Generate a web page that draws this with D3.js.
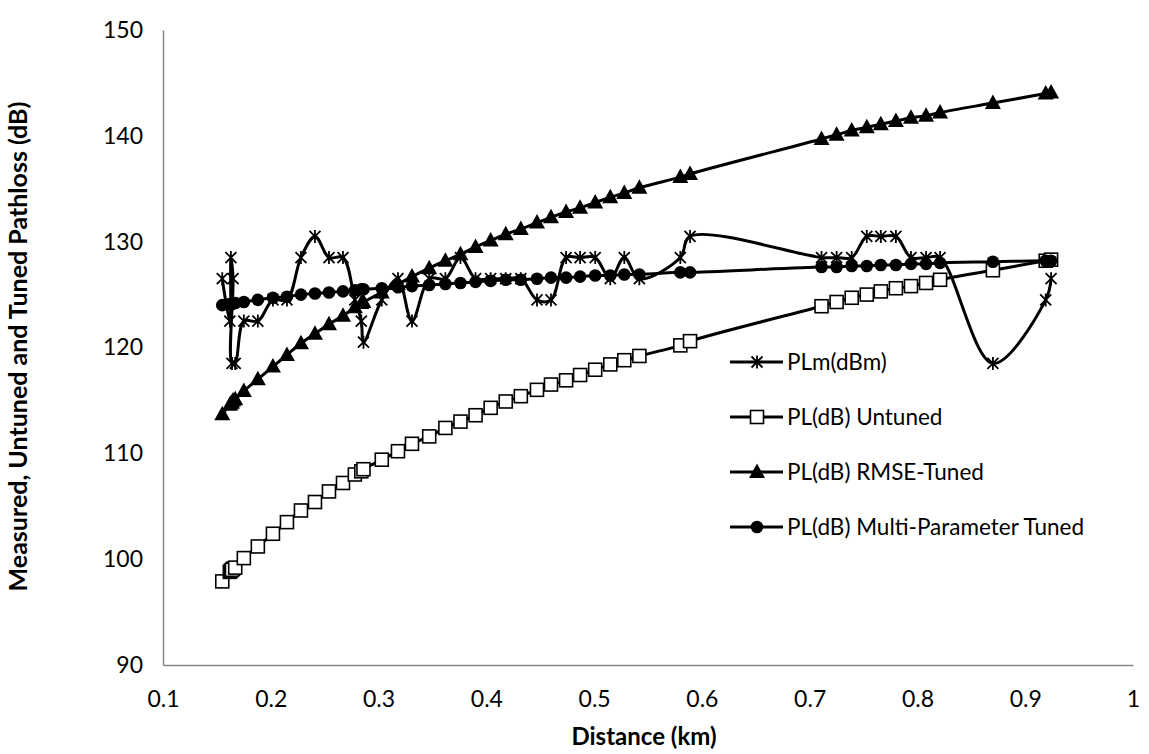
<!DOCTYPE html>
<html>
<head>
  <meta charset="utf-8">
  <title>Measured, Untuned and Tuned Pathloss</title>
  <script src="https://d3js.org/d3.v7.min.js"></script>
  <style>
    body { margin: 0; background: #fff; }
    text { font-family: Lato, "Open Sans", sans-serif; fill: #000; }
    .axis path { stroke: #868686; stroke-width: 1.5; }
    .axis text { font-size: 23px; }
    .title { font-weight: bold; }
    .legend text { font-size: 22.5px; }
  </style>
</head>
<body>
<svg class="chart" width="1149" height="754"></svg>
<script>

// distance (km), in the order the points are plotted
var distance = [0.155, 0.162, 0.163, 0.165, 0.164, 0.167, 0.175, 0.188, 0.202, 0.215,
  0.228, 0.241, 0.254, 0.267, 0.278, 0.284, 0.286, 0.303, 0.318, 0.331,
  0.347, 0.362, 0.376, 0.390, 0.404, 0.418, 0.432, 0.447, 0.460, 0.474,
  0.487, 0.501, 0.515, 0.528, 0.542, 0.580, 0.589, 0.711, 0.725, 0.739,
  0.753, 0.766, 0.780, 0.794, 0.808, 0.821, 0.870, 0.919, 0.924];

var plMeasured = [126.5, 122.5, 128.5, 126.5, 118.5, 118.5, 122.5, 122.5, 124.5, 124.5,
  128.5, 130.5, 128.5, 128.5, 124.5, 122.5, 120.5, 124.5, 126.5, 122.5,
  126.5, 126.5, 128.5, 126.5, 126.5, 126.5, 126.5, 124.5, 124.5, 128.5,
  128.5, 128.5, 126.5, 128.5, 126.5, 128.5, 130.5, 128.5, 128.5, 128.5,
  130.5, 130.5, 130.5, 128.5, 128.5, 128.5, 118.5, 124.5, 126.5];

var plUntuned = [97.9, 98.8, 98.9, 99.1, 99.0, 99.2, 100.1, 101.2, 102.4, 103.5,
  104.6, 105.4, 106.4, 107.2, 108.0, 108.3, 108.5, 109.4, 110.2, 110.9,
  111.6, 112.4, 113.0, 113.6, 114.3, 114.9, 115.4, 116.0, 116.5, 116.9,
  117.4, 117.9, 118.4, 118.8, 119.2, 120.2, 120.6, 123.9, 124.3, 124.7,
  125.0, 125.3, 125.6, 125.8, 126.1, 126.4, 127.3, 128.2, 128.3];

var plRmse = [113.7, 114.6, 114.7, 115.0, 114.8, 115.1, 115.9, 117.0, 118.2, 119.3,
  120.4, 121.3, 122.2, 123.0, 123.8, 124.2, 124.3, 125.2, 126.0, 126.7,
  127.5, 128.2, 128.8, 129.5, 130.1, 130.7, 131.2, 131.8, 132.3, 132.8,
  133.2, 133.7, 134.2, 134.6, 135.1, 136.1, 136.4, 139.7, 140.1, 140.5,
  140.8, 141.1, 141.4, 141.7, 141.9, 142.2, 143.1, 144.0, 144.1];

var plMulti = [124.0, 124.1, 124.1, 124.2, 124.1, 124.2, 124.3, 124.5, 124.7, 124.8,
  125.0, 125.1, 125.2, 125.3, 125.4, 125.5, 125.5, 125.6, 125.7, 125.8,
  125.9, 126.0, 126.1, 126.2, 126.3, 126.4, 126.4, 126.5, 126.6, 126.6,
  126.7, 126.8, 126.8, 126.9, 126.9, 127.1, 127.1, 127.6, 127.6, 127.7,
  127.7, 127.8, 127.8, 127.9, 127.9, 128.0, 128.1, 128.2, 128.2];

var seriesNames = ["PLm(dBm)", "PL(dB) Untuned", "PL(dB) RMSE-Tuned", "PL(dB) Multi-Parameter Tuned"];
var xTicks = [0.1, 0.2, 0.3, 0.4, 0.5, 0.6, 0.7, 0.8, 0.9, 1];
var yTicks = [90, 100, 110, 120, 130, 140, 150];

var margin = {top: 30, right: 16, bottom: 89, left: 163},
    width = 1149 - margin.left - margin.right,
    height = 754 - margin.top - margin.bottom;

var svg = d3.select(".chart");
var chart = svg.append("g")
    .attr("transform", "translate(" + margin.left + "," + margin.top + ")");

var x = d3.scaleLinear().domain([0.1, 1]).range([0, width]);
var y = d3.scaleLinear().domain([90, 150]).range([height, 0]);

chart.append("g")
    .attr("class", "x axis")
    .attr("transform", "translate(0," + height + ")")
    .call(d3.axisBottom(x).tickValues(xTicks).tickSize(0).tickPadding(26).tickFormat(d3.format("")));

chart.append("g")
    .attr("class", "y axis")
    .call(d3.axisLeft(y).tickValues(yTicks).tickSize(0).tickPadding(20));

chart.selectAll(".axis text").attr("font-family", null).attr("font-size", null);

// marker shapes
var star = "M-5.5,-5.5L5.5,5.5M-5.5,5.5L5.5,-5.5M0,-6.5L0,6.5";
var marks = [
  function(g) { g.append("path").attr("d", star).attr("fill", "none").attr("stroke", "#000").attr("stroke-width", 1.8); },
  function(g) { g.append("rect").attr("x", -6.5).attr("y", -6.5).attr("width", 13).attr("height", 13)
                 .attr("fill", "#fff").attr("stroke", "#000").attr("stroke-width", 1.6); },
  function(g) { g.append("path").attr("d", "M0,-8.5L8,6L-8,6Z").attr("fill", "#000"); },
  function(g) { g.append("circle").attr("r", 6.3).attr("fill", "#000"); }
];

var allSeries = [plMeasured, plUntuned, plRmse, plMulti];

var line = d3.line()
    .x(function(d) { return x(d[0]); })
    .y(function(d) { return y(d[1]); })
    .curve(d3.curveCatmullRom.alpha(0.5));

allSeries.forEach(function(vals, i) {
  var pts = distance.map(function(d, j) { return [d, vals[j]]; });
  var g = chart.append("g").attr("class", "series");
  g.append("path")
      .datum(pts)
      .attr("d", line)
      .attr("fill", "none")
      .attr("stroke", "#000")
      .attr("stroke-width", 3);
  g.selectAll(".mk")
      .data(pts)
    .enter().append("g")
      .attr("class", "mk")
      .attr("transform", function(d) { return "translate(" + x(d[0]) + "," + y(d[1]) + ")"; })
      .each(function() { marks[i](d3.select(this)); });
});

// legend
var legend = svg.append("g").attr("class", "legend");
seriesNames.forEach(function(name, i) {
  var ly = 362 + i * 55;
  var lg = legend.append("g").attr("transform", "translate(0," + ly + ")");
  lg.append("line").attr("x1", 730).attr("x2", 783).attr("stroke", "#000").attr("stroke-width", 3);
  marks[i](lg.append("g").attr("transform", "translate(757,0)"));
  lg.append("text").attr("x", 787).attr("dy", "0.35em").text(name);
});

// axis titles
svg.append("text")
    .attr("class", "title")
    .attr("x", margin.left + width / 2 - 4)
    .attr("y", 745)
    .attr("text-anchor", "middle")
    .attr("font-size", 24)
    .text("Distance (km)");

svg.append("text")
    .attr("class", "title")
    .attr("transform", "translate(27," + (margin.top + height / 2 - 1) + ") rotate(-90)")
    .attr("text-anchor", "middle")
    .attr("font-size", 25)
    .text("Measured, Untuned and Tuned Pathloss (dB)");

</script>
</body>
</html>
